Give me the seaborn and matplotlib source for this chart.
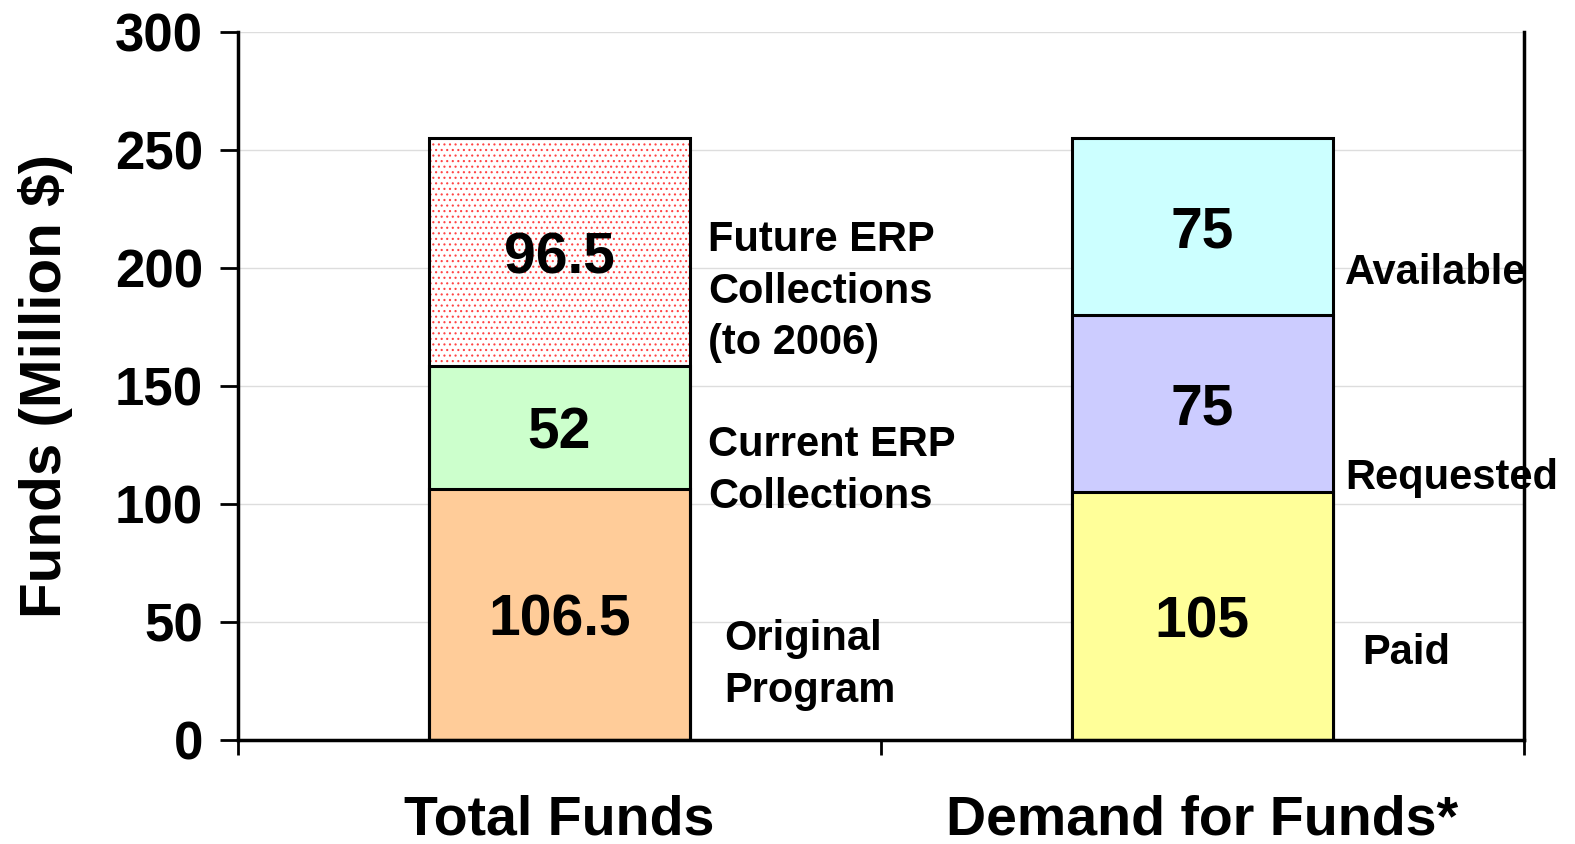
import matplotlib
matplotlib.use("Agg")
import matplotlib.pyplot as plt
from matplotlib.patches import Rectangle
from matplotlib.ticker import FixedLocator
import numpy as np
import pandas as pd
import seaborn as sns

sns.set_style("white")
plt.rcParams['font.family'] = ['Liberation Sans', 'DejaVu Sans']
plt.rcParams['font.weight'] = 'bold'
plt.rcParams['text.color'] = 'k'
plt.rcParams['axes.labelcolor'] = 'k'
plt.rcParams['xtick.color'] = 'k'
plt.rcParams['ytick.color'] = 'k'
plt.rcParams['hatch.linewidth'] = 0.8

#=======================================================================
#                                  Data
#=======================================================================
categories = ["Total Funds", "Demand for Funds*"]
seg_bottom = [106.5, 105]
seg_middle = [52, 75]
seg_top = [96.5, 75]

labels_total = ["Original\nProgram", "Current ERP\nCollections", "Future ERP\nCollections\n(to 2006)"]
labels_demand = ["Paid", "Requested", "Available"]

colors_bottom = ["#FFCC99", "#FFFF99"]
colors_middle = ["#CCFFCC", "#CCCCFF"]
colors_top = ["#FFFFFF", "#CCFFFF"]

yticks = [0, 50, 100, 150, 200, 250, 300]

#=======================================================================
#                                  Plot
#=======================================================================
cum1 = np.array(seg_bottom)
cum2 = cum1 + np.array(seg_middle)
cum3 = cum2 + np.array(seg_top)

fig = plt.figure(figsize=(15.75, 8.44), dpi=100)
ax = fig.add_axes([0.151, 0.123, 0.8166, 0.839])

bw = 0.405
layers = [(cum3, colors_top), (cum2, colors_middle), (cum1, colors_bottom)]
for vals, cols in layers:
    df = pd.DataFrame({"cat": categories, "val": vals})
    sns.barplot(data=df, x="cat", y="val", hue="cat", palette=cols, legend=False,
                width=bw, edgecolor="k", linewidth=2.2, saturation=1, ax=ax)

# dotted fill of the top "Total Funds" segment
top_patch = ax.patches[0]
top_patch.set_hatch('...')
top_patch.set_edgecolor('#FF4444')
top_patch.set_linewidth(0)
x0, y0 = top_patch.get_xy()
outline = Rectangle((x0, y0), top_patch.get_width(), top_patch.get_height(),
                    fill=False, ec='k', lw=2.2, zorder=5)
ax.add_patch(outline)

# values inside segments
for i in range(len(categories)):
    lows = [0, cum1[i], cum2[i]]
    segs = [seg_bottom[i], seg_middle[i], seg_top[i]]
    for lo, s in zip(lows, segs):
        ax.text(i, lo + s / 2, '%g' % s, ha='center', va='center_baseline', fontsize=41,
                fontweight='bold', zorder=6)

# side labels
fs_side = 30
ax.text(0.256, 32, labels_total[0], ha='left', va='center', fontsize=fs_side, linespacing=1.38)
ax.text(0.231, 114, labels_total[1], ha='left', va='center', fontsize=fs_side, linespacing=1.38)
ax.text(0.231, 190, labels_total[2], ha='left', va='center', fontsize=fs_side, linespacing=1.38)
ax.text(1.248, 37, labels_demand[0], ha='left', va='center', fontsize=fs_side)
ax.text(1.222, 111, labels_demand[1], ha='left', va='center', fontsize=fs_side)
ax.text(1.222, 198, labels_demand[2], ha='left', va='center', fontsize=fs_side)

#Axis limits, ticks
ax.set_xlim(-0.5, 1.5)
ax.set_ylim(0, 300)
ax.set_yticks(yticks)
ax.set_yticklabels([str(t) for t in yticks], fontsize=38, fontweight='bold')
ax.tick_params(axis='y', direction='out', length=13, width=2, pad=12, left=True)
ax.set_xticks([0, 1])
ax.set_xticklabels(categories, fontsize=40, fontweight='bold')
ax.tick_params(axis='x', which='major', length=0, pad=39)
ax.xaxis.set_minor_locator(FixedLocator([-0.5, 0.5, 1.5]))
ax.tick_params(axis='x', which='minor', direction='out', length=11, width=2, bottom=True)
ax.set_xlabel('')
ax.set_ylabel('Funds (Million $)', fontsize=42, fontweight='bold', labelpad=30)

ax.yaxis.grid(True, color='#DDDDDD', lw=1)
ax.xaxis.grid(False)
ax.set_axisbelow(True)
for side in ['left', 'bottom', 'right']:
    ax.spines[side].set_visible(True)
    ax.spines[side].set_linewidth(2.5)
    ax.spines[side].set_color('k')
ax.spines['top'].set_visible(False)

plt.savefig("out.png", dpi=100)
